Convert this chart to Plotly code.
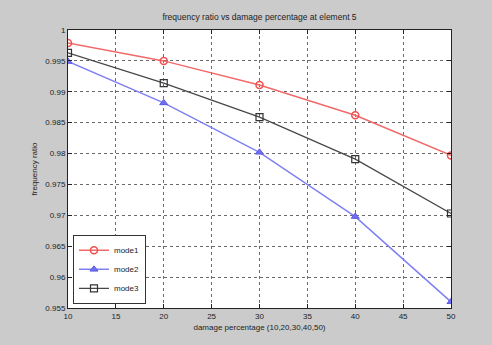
import plotly.graph_objects as go

damage = [10, 20, 30, 40, 50]
mode1 = [0.9979, 0.9950, 0.9911, 0.9862, 0.9797]
mode2 = [0.9949, 0.9882, 0.9802, 0.9698, 0.9560]
mode3 = [0.9963, 0.9914, 0.9859, 0.9791, 0.9703]

x_ticks = [10, 15, 20, 25, 30, 35, 40, 45, 50]
y_ticks = [0.955, 0.96, 0.965, 0.97, 0.975, 0.98, 0.985, 0.99, 0.995, 1.0]
y_tick_text = ["0.955", "0.96", "0.965", "0.97", "0.975", "0.98", "0.985", "0.99", "0.995", "1"]

font = "Liberation Sans, Arial, sans-serif"

fig = go.Figure()
fig.add_trace(go.Scatter(
    x=damage, y=mode1, name="mode1", mode="lines+markers",
    line=dict(color="#f06a6a", width=1.5),
    marker=dict(symbol="circle-open", size=7, color="#f05050", line=dict(width=1.5)),
))
fig.add_trace(go.Scatter(
    x=damage, y=mode2, name="mode2", mode="lines+markers",
    line=dict(color="#8080f5", width=1.5),
    marker=dict(symbol="triangle-up", size=7, color="#7070f0", line=dict(width=1, color="#5a5ae0")),
))
fig.add_trace(go.Scatter(
    x=damage, y=mode3, name="mode3", mode="lines+markers",
    line=dict(color="#474747", width=1.2),
    marker=dict(symbol="square-open", size=7, color="#333333", line=dict(width=1.2)),
))

axis_common = dict(
    showgrid=True, gridcolor="#6a6a6a", griddash="dot", gridwidth=0.7,
    ticks="inside", ticklen=4, tickcolor="#222222",
    showline=True, linecolor="#222222", linewidth=1, mirror="ticks",
    zeroline=False, tickfont=dict(size=8, color="#222222", family=font),
)

fig.update_layout(
    width=492, height=345,
    margin=dict(l=68, r=41, t=30, b=37),
    paper_bgcolor="#cbcbcb", plot_bgcolor="#ffffff",
    title=dict(text="frequency ratio vs damage percentage at element 5",
               x=0.5, xref="paper", xanchor="center",
               y=1 - 17 / 345, yanchor="middle",
               font=dict(size=8.5, color="#222222", family=font)),
    xaxis=dict(range=[10, 50], tickvals=x_ticks,
               title=dict(text="damage percentage (10,20,30,40,50)", standoff=4,
                          font=dict(size=8, color="#222222", family=font)),
               **axis_common),
    yaxis=dict(range=[0.955, 1.0], tickvals=y_ticks, ticktext=y_tick_text,
               title=dict(text="frequency ratio", standoff=6,
                          font=dict(size=8, color="#222222", family=font)),
               **axis_common),
    legend=dict(x=0.013, y=0.015, xanchor="left", yanchor="bottom",
                bgcolor="#ffffff", bordercolor="#333333", borderwidth=1,
                font=dict(size=8, color="#222222", family=font),
                tracegroupgap=0, itemwidth=30),
    showlegend=True,
)

fig.write_html("out.html")
